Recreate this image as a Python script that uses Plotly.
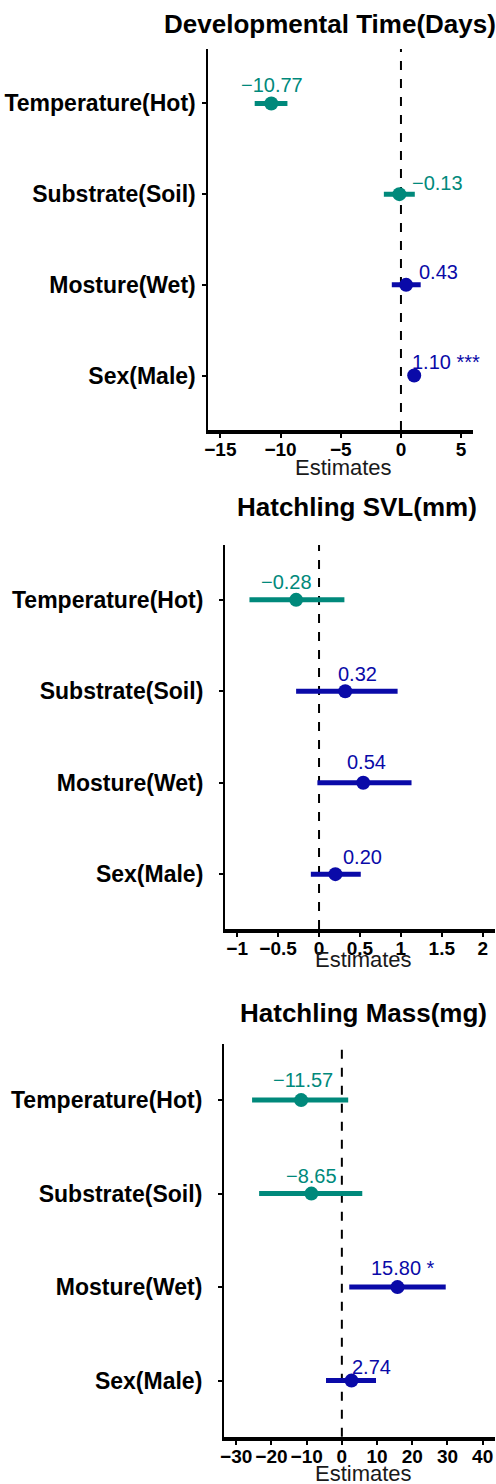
import plotly.graph_objects as go

# ---------------- data ----------------
terms = ["Temperature(Hot)", "Substrate(Soil)", "Mosture(Wet)", "Sex(Male)"]
titles = ["Developmental Time(Days)", "Hatchling SVL(mm)", "Hatchling Mass(mg)"]

dev_est = [-10.77, -0.13, 0.43, 1.10]
dev_lo = [-12.15, -1.42, -0.76, 0.78]
dev_hi = [-9.43, 1.15, 1.64, 1.42]
dev_stars = ["", "", "", "***"]

svl_est = [-0.28, 0.32, 0.54, 0.20]
svl_lo = [-0.85, -0.28, -0.02, -0.10]
svl_hi = [0.31, 0.96, 1.13, 0.51]
svl_stars = ["", "", "", ""]

mass_est = [-11.57, -8.65, 15.80, 2.74]
mass_lo = [-25.5, -23.5, 2.1, -4.5]
mass_hi = [1.8, 5.8, 29.5, 9.7]
mass_stars = ["", "", "*", ""]

dev_ticks = [-15, -10, -5, 0, 5]
svl_ticks = [-1, -0.5, 0, 0.5, 1, 1.5, 2]
mass_ticks = [-30, -20, -10, 0, 10, 20, 30, 40]

# ---------------- styling ----------------
NEG = "#00897b"
POS = "#0a0aa8"
FONT = "Liberation Sans"
W, H = 496, 1484

panels = [
    dict(est=dev_est, lo=dev_lo, hi=dev_hi, stars=dev_stars, ticks=dev_ticks,
         xr=[-16, 6], px=(206, 473), py=(49, 430), title_xy=(329, 24), xt_xy=(342, 467),
         shifts=[(1, 18), (38, 11), (32, 13), (32, 14)], standoff=2),
    dict(est=svl_est, lo=svl_lo, hi=svl_hi, stars=svl_stars, ticks=svl_ticks,
         xr=[-1.15, 2.15], px=(222.7, 495), py=(545, 929), title_xy=(356, 507), xt_xy=(362, 960),
         shifts=[(-10, 18), (12, 17), (3, 21), (27, 17)], standoff=11),
    dict(est=mass_est, lo=mass_lo, hi=mass_hi, stars=mass_stars, ticks=mass_ticks,
         xr=[-33.5, 43.5], px=(221.7, 495), py=(1044, 1436.7), title_xy=(362, 1013), xt_xy=(362, 1473),
         shifts=[(2, 20), (0, 18), (6, 19), (20, 14)], standoff=11),
]


def fmt(v):
    s = f"{abs(v):.2f}"
    return ("\u2212" + s) if v < 0 else s


fig = go.Figure()
cat_order = list(reversed(terms))

for i, p in enumerate(panels, start=1):
    xa = "x" if i == 1 else f"x{i}"
    ya = "y" if i == 1 else f"y{i}"
    colors = [NEG if v < 0 else POS for v in p["est"]]
    # error bars as line segments
    for t, lo, hi, c in zip(terms, p["lo"], p["hi"], colors):
        fig.add_trace(go.Scatter(x=[lo, hi], y=[t, t], mode="lines",
                                 line=dict(color=c, width=5), xaxis=xa, yaxis=ya,
                                 showlegend=False, hoverinfo="skip"))
    fig.add_trace(go.Scatter(x=p["est"], y=terms, mode="markers",
                             marker=dict(color=colors, size=14),
                             xaxis=xa, yaxis=ya, showlegend=False))
    # value labels
    for t, v, s, c, (dx, dy) in zip(terms, p["est"], p["stars"], colors, p["shifts"]):
        txt = fmt(v) + ((" " + s) if s else "")
        fig.add_annotation(x=v, y=t, xref=xa, yref=ya, text=txt, showarrow=False,
                           xshift=dx, yshift=dy, font=dict(family=FONT, size=20, color=c))
    # zero line
    fig.add_shape(type="line", x0=0, x1=0, y0=0, y1=1, xref=xa, yref=f"{ya} domain",
                  line=dict(color="black", width=2, dash="dash"), layer="below")
    x0, x1 = p["px"]
    y0, y1 = p["py"]
    axx = dict(domain=[x0 / W, x1 / W], range=p["xr"], tickvals=p["ticks"],
               showgrid=False, zeroline=False, showline=True, linecolor="black",
               linewidth=4, ticks="outside", ticklen=4, tickwidth=2, tickcolor="black",
               ticklabelstandoff=-5, tickangle=0,
               tickfont=dict(family=FONT, size=19, color="black", weight="bold"),
               anchor=ya, fixedrange=True)
    axy = dict(domain=[1 - y1 / H, 1 - y0 / H], type="category",
               categoryorder="array", categoryarray=cat_order, range=[-0.6, 3.6],
               showgrid=False, zeroline=False, showline=True, linecolor="black",
               linewidth=2, ticks="outside", ticklen=4, tickwidth=2, tickcolor="black",
               ticklabelstandoff=p["standoff"],
               tickfont=dict(family=FONT, size=23, color="black", weight="bold"),
               anchor=xa, fixedrange=True)
    fig.update_layout(**{("xaxis" if i == 1 else f"xaxis{i}"): axx,
                         ("yaxis" if i == 1 else f"yaxis{i}"): axy})
    tx, ty = p["title_xy"]
    fig.add_annotation(x=tx / W, y=1 - ty / H, xref="paper", yref="paper",
                       text="<b>" + titles[i - 1] + "</b>", showarrow=False,
                       xanchor="center", yanchor="middle",
                       font=dict(family=FONT, size=26, color="black"))
    ex, ey = p["xt_xy"]
    fig.add_annotation(x=ex / W, y=1 - ey / H, xref="paper", yref="paper",
                       text="Estimates", showarrow=False,
                       xanchor="center", yanchor="middle",
                       font=dict(family=FONT, size=22, color="#1a1a1a"))

fig.update_layout(width=W, height=H, margin=dict(l=0, r=0, t=0, b=0),
                  plot_bgcolor="white", paper_bgcolor="white")

fig.write_html("out.html", config={"displayModeBar": False},
               post_script="document.body.style.margin='0';")
